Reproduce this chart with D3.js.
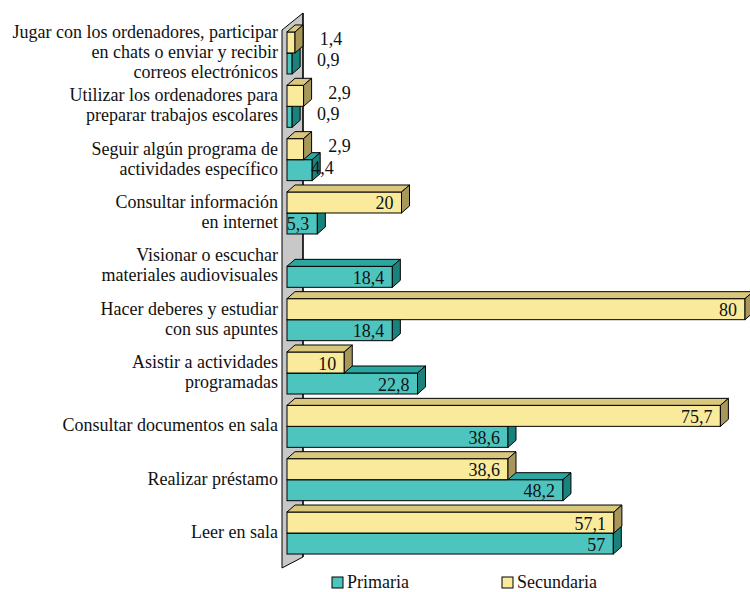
<!DOCTYPE html>
<html><head><meta charset="utf-8">
<script src="https://cdn.jsdelivr.net/npm/d3@7"></script>
<style>body{margin:0;background:#fff}svg{display:block}</style>
</head><body><svg id="c" width="750" height="592"></svg>
<script>
const categories = [
  "Jugar con los ordenadores, participar|en chats o enviar y recibir|correos electrónicos",
  "Utilizar los ordenadores para|preparar trabajos escolares",
  "Seguir algún programa de|actividades específico",
  "Consultar información|en internet",
  "Visionar o escuchar|materiales audiovisuales",
  "Hacer deberes y estudiar|con sus apuntes",
  "Asistir a actividades|programadas",
  "Consultar documentos en sala",
  "Realizar préstamo",
  "Leer en sala"
];
const primaria   = [0.9, 0.9, 4.4, 5.3, 18.4, 18.4, 22.8, 38.6, 48.2, 57];
const secundaria = [1.4, 2.9, 2.9, 20, null, 80, 10, 75.7, 38.6, 57.1];
const seriesNames = ["Primaria", "Secundaria"];

const colors = {
  Primaria:   {front: "#4EC4BF", top: "#2BA7A1", side: "#1A827D"},
  Secundaria: {front: "#FAEB9C", top: "#D9C87C", side: "#A8975B"}
};
const FONT = "Liberation Serif";
const FS = "18px";
const svg = d3.select("#c");
const x = d3.scaleLinear().domain([0, 80]).range([287, 745]);
const y = d3.scaleBand().domain(categories).range([26.3, 559.7]).padding(0);
const barH = 21, dx = 8, dy = -7;

// wall
const wx0 = 282, wx1 = 303;
svg.append("polygon")
  .attr("points", [[wx0, 30], [wx1, 13], [wx1, 557], [wx0, 568]].map(p => p.join(",")).join(" "))
  .attr("fill", "#C8C8C8").attr("stroke", "#000").attr("stroke-width", 1);
svg.append("line").attr("x1", wx1).attr("x2", wx1).attr("y1", 13).attr("y2", 557)
  .attr("stroke", "#000").attr("stroke-width", 1.2);

function bar(g, v, yt, col) {
  const x0 = x(0), x1 = x(v), yb = yt + barH;
  g.append("rect").attr("x", x0).attr("y", yt).attr("width", x1 - x0).attr("height", barH)
    .attr("fill", col.front).attr("stroke", "#000").attr("stroke-width", 1);
  g.append("polygon").attr("points", [[x0, yt], [x0 + dx, yt + dy], [x1 + dx, yt + dy], [x1, yt]].map(p => p.join(",")).join(" "))
    .attr("fill", col.top).attr("stroke", "#000").attr("stroke-width", 1).attr("stroke-linejoin", "round");
  g.append("polygon").attr("points", [[x1, yt], [x1 + dx, yt + dy], [x1 + dx, yb + dy], [x1, yb]].map(p => p.join(",")).join(" "))
    .attr("fill", col.side).attr("stroke", "#000").attr("stroke-width", 1).attr("stroke-linejoin", "round");
}
function fmt(v) { return String(v).replace(".", ","); }
function txt(sel) { return sel.style("font-family", FONT).style("font-size", FS).attr("fill", "#111"); }
function label(g, v, yt) {
  const cy = yt + barH / 2;
  const t = txt(g.append("text")).attr("dominant-baseline", "central").text(fmt(v));
  if (v < 4) t.attr("x", x(v) + 36).attr("y", cy - 3).attr("text-anchor", "middle");
  else if (v < 5) t.attr("x", x(v) - 1).attr("y", cy - 2).attr("text-anchor", "start");
  else t.attr("x", x(v) - 8).attr("y", cy + 1).attr("text-anchor", "end");
}

const bars = svg.append("g");
categories.forEach((c, i) => {
  const center = y(c) + y.bandwidth() / 2;
  const g = bars.append("g");
  if (primaria[i] != null) bar(g, primaria[i], center, colors.Primaria);
  if (secundaria[i] != null) bar(g, secundaria[i], center - barH, colors.Secundaria);
  if (primaria[i] != null) label(g, primaria[i], center);
  if (secundaria[i] != null) label(g, secundaria[i], center - barH);
});

// category labels
const lh = 20;
categories.forEach(c => {
  const lines = c.split("|");
  const center = y(c) + y.bandwidth() / 2;
  const t = txt(svg.append("text")).attr("text-anchor", "end");
  lines.forEach((ln, k) => {
    t.append("tspan").attr("x", 278).attr("y", center + 5 + (k - (lines.length - 1) / 2) * lh).text(ln);
  });
});

// legend
const leg = [{name: "Primaria", x: 332}, {name: "Secundaria", x: 502}];
leg.forEach(l => {
  svg.append("rect").attr("x", l.x).attr("y", 577).attr("width", 11).attr("height", 11)
    .attr("fill", colors[l.name].front).attr("stroke", "#000").attr("stroke-width", 1);
  txt(svg.append("text")).attr("x", l.x + 15).attr("y", 588).text(l.name);
});
</script></body></html>
